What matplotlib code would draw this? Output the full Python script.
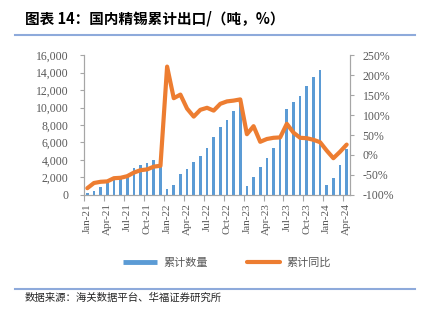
import matplotlib
matplotlib.use('Agg')
import matplotlib.pyplot as plt
from matplotlib.lines import Line2D
from matplotlib.ticker import FuncFormatter, FixedLocator
import numpy as np

plt.rcParams['font.family'] = ['Noto Sans CJK SC', 'DejaVu Sans']

months = []
for yr in ['21', '22', '23', '24']:
    for m in ['Jan', 'Feb', 'Mar', 'Apr', 'May', 'Jun', 'Jul', 'Aug', 'Sep', 'Oct', 'Nov', 'Dec']:
        months.append(m + '-' + yr)
months = months[:40]

# cumulative export volume, tonnes
qty = [200, 490, 890, 1400, 1710, 1790, 2150, 3060, 3430, 3640, 4000, 3300,
       650, 1140, 2400, 3010, 3770, 4460, 5390, 6650, 7810, 8570, 9600, 10600,
       1030, 2100, 3200, 4190, 5410, 6440, 9810, 10590, 11350, 12420, 13450, 14290,
       1140, 1900, 3430, 5300]
# cumulative yoy, %
yoy = [-83, -70, -67, -66, -58, -57, -53, -44, -38, -36, -29, -27,
       221, 142, 151, 116, 96, 113, 118, 111, 128, 134, 136, 139,
       52, 72, 33, 40, 43, 44, 78, 56, 43, 42, 38, 32,
       11, -8, 8, 26]

blue = '#5B9BD5'
orange = '#ED7D31'
grey = '#A6A6A6'
txt = '#595959'
serif = 'Liberation Serif'

fig = plt.figure(figsize=(4.25, 3.23), dpi=100)
ax = fig.add_axes([0.1976, 0.3963, 0.8235 - 0.1976, 0.8297 - 0.3963])
ax2 = ax.twinx()

x = np.arange(len(months))
ax.bar(x, qty, width=0.4, color=blue, zorder=2)
ax2.plot(x, yoy, color=orange, linewidth=3, solid_joinstyle='round', solid_capstyle='round', zorder=3)

ax.set_xlim(-0.5, len(months) - 0.5)
ax.set_ylim(0, 16000)
ax.set_yticks(np.arange(0, 16001, 2000))
ax.yaxis.set_major_formatter(FuncFormatter(lambda v, p: '{:,}'.format(int(v))))
ax2.set_ylim(-100, 250)
ax2.set_yticks(np.arange(-100, 251, 50))
ax2.yaxis.set_major_formatter(FuncFormatter(lambda v, p: '{}%'.format(int(v))))

ax.set_xticks(x[::3])
ax.set_xticklabels(months[::3], rotation=90, fontsize=8, family=serif, color=txt)
ax.xaxis.set_minor_locator(FixedLocator(np.arange(-0.5, len(months), 3)))
ax.tick_params(axis='x', which='major', length=0, pad=6)
ax.tick_params(axis='x', which='minor', length=4, color=grey, width=0.8)

for a in (ax, ax2):
    for s in a.spines.values():
        s.set_color(grey)
        s.set_linewidth(0.8)
    a.spines['top'].set_visible(False)
    for lab in a.get_yticklabels():
        lab.set_family(serif)
        lab.set_fontsize(8.5)
        lab.set_color(txt)
ax.tick_params(axis='y', length=3, color=grey, width=0.8, pad=8)
ax2.tick_params(axis='y', length=3, color=grey, width=0.8, pad=6)

ax.set_zorder(1)
ax2.set_zorder(2)
ax2.patch.set_visible(False)

handles = [Line2D([], [], color=blue, linewidth=3.5, solid_capstyle='butt'),
           Line2D([], [], color=orange, linewidth=3, solid_capstyle='round')]
fig.legend(handles, ['累计数量', '累计同比'], loc='center', bbox_to_anchor=(0.535, 0.186),
           ncol=2, frameon=False, fontsize=8, handlelength=3.0, columnspacing=3.5,
           handletextpad=0.6, labelcolor=txt)

fig.text(0.059, 0.944, '图表 14：国内精锡累计出口/（吨，%）', fontsize=10.5, fontweight='bold',
         va='center', ha='left', color='black')
fig.add_artist(Line2D([0.035, 0.977], [0.893, 0.893], color='#8EAADB', linewidth=1.5))
fig.add_artist(Line2D([0.035, 0.977], [0.106, 0.106], color='#8EAADB', linewidth=1.5))
fig.text(0.059, 0.077, '数据来源：海关数据平台、华福证券研究所', fontsize=7.5,
         va='center', ha='left', color='#262626')

fig.savefig('out.png', dpi=100)
